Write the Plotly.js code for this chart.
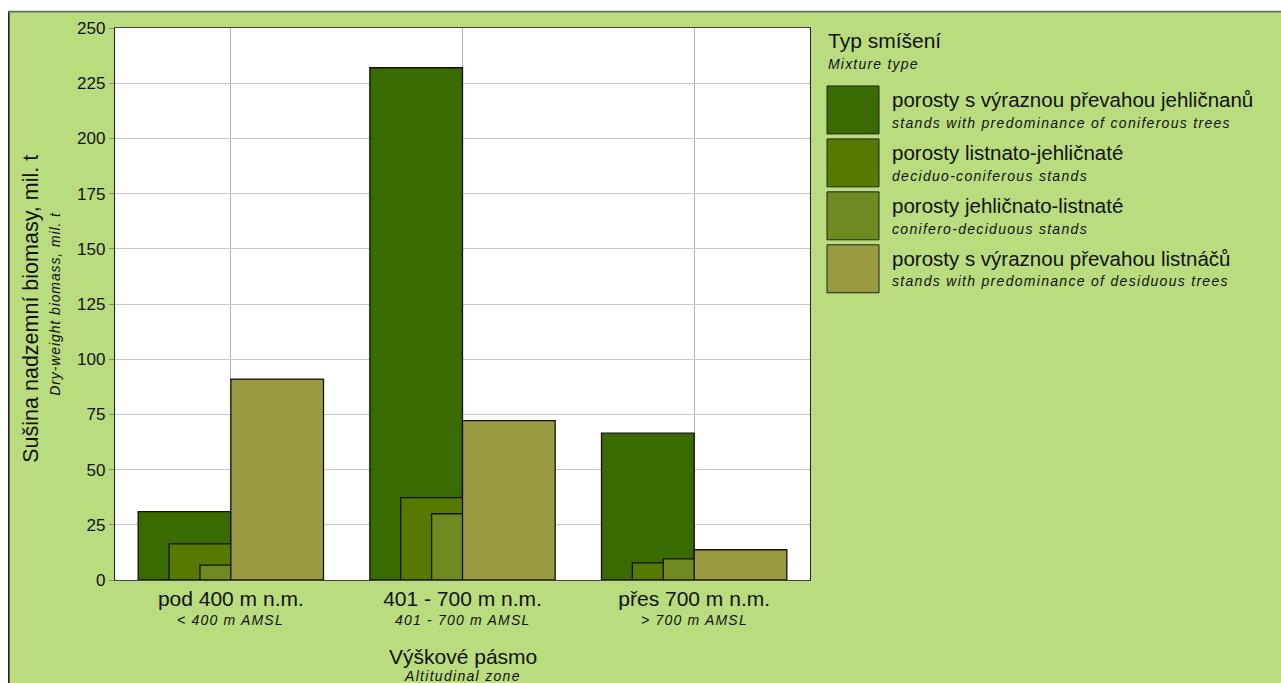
<!DOCTYPE html>
<html>
<head>
<meta charset="utf-8">
<script src="https://cdn.plot.ly/plotly-3.0.1.min.js"></script>
<style>html,body{margin:0;padding:0;background:#fff;}#chart{width:1281px;height:683px;}</style>
</head>
<body>
<div id="chart"></div>
<script>
// ---- data ----
const categories = ["pod 400 m n.m.", "401 - 700 m n.m.", "přes 700 m n.m."];
const categoriesEn = ["< 400 m AMSL", "401 - 700 m AMSL", "> 700 m AMSL"];
const seriesNames = ["porosty s výraznou převahou jehličnanů", "porosty listnato-jehličnaté", "porosty jehličnato-listnaté", "porosty s výraznou převahou listnáčů"];
const seriesNamesEn = ["stands with predominance of coniferous trees", "deciduo-coniferous stands", "conifero-deciduous stands", "stands with predominance of desiduous trees"];
const coniferous = [31, 232, 66.5];
const deciduoConiferous = [16.4, 37.3, 7.8];
const coniferoDeciduous = [6.7, 30.0, 9.6];
const deciduous = [91, 72.2, 13.7];
const seriesValues = [coniferous, deciduoConiferous, coniferoDeciduous, deciduous];
const xTitle = "Výškové pásmo", xTitleEn = "Altitudinal zone";
const yTitle = "Sušina nadzemní biomasy, mil. t", yTitleEn = "Dry-weight biomass, mil. t";
const legendTitle = "Typ smíšení", legendTitleEn = "Mixture type";

// ---- styles ----
const colors = ["#3a6b00", "#567a00", "#6f8a21", "#999a42"];
const offsets = [-0.4, -0.2667, -0.1333, 0];
const barWidth = 0.4;
const FONT = "Liberation Sans, Arial, sans-serif";
const green = "#b9dc7e";
const TXT = "#111";
const it = (s, sp) => "<i><span style='letter-spacing:" + sp + "px'>" + s + "</span></i>";

const traces = seriesValues.map((vals, i) => ({
  type: "bar",
  name: seriesNames[i],
  x: categories,
  y: vals,
  width: barWidth,
  offset: offsets[i],
  marker: {color: colors[i], line: {color: "#111", width: 1.3}},
  showlegend: false,
  hovertemplate: "%{x}<br>" + seriesNames[i] + ": %{y}<extra></extra>"
}));

// plot area in px
const L = 115, R = 810, T = 28, B = 580.5, W = 1281, H = 683;
const px = x => (x - L) / (R - L);
const py = y => (B - y) / (B - T);

const shapes = [
  {type: "rect", xref: "paper", yref: "paper", x0: px(-5), x1: px(8.5), y0: py(-5), y1: py(690), fillcolor: "#fff", line: {width: 0}, layer: "below"},
  {type: "rect", xref: "paper", yref: "paper", x0: px(-5), x1: px(1290), y0: py(-5), y1: py(11), fillcolor: "#fff", line: {width: 0}, layer: "below"},
  {type: "line", xref: "paper", yref: "paper", x0: px(8.8), x1: px(8.8), y0: py(11), y1: py(690), line: {color: "#222", width: 1.6}, layer: "below"},
  {type: "line", xref: "paper", yref: "paper", x0: px(8), x1: px(1290), y0: py(11.6), y1: py(11.6), line: {color: "#666", width: 1.6}, layer: "below"}
];

const annotations = [];
const ann = (o) => annotations.push(Object.assign({showarrow: false, xref: "paper", yref: "paper"}, o));

// x sub labels
categories.forEach((c, i) => ann({xref: "x", x: c, y: py(621), xanchor: "center", yanchor: "middle",
  text: it(categoriesEn[i], 1.2), font: {family: FONT, size: 14, color: TXT}}));
// x title
ann({x: px(462.5), y: py(657), xanchor: "center", yanchor: "middle", text: xTitle, font: {family: FONT, size: 21, color: TXT}});
ann({x: px(462.5), y: py(677), xanchor: "center", yanchor: "middle", text: it(xTitleEn, 1.3), font: {family: FONT, size: 14, color: TXT}});
// y title
ann({x: px(31), y: py(309), xanchor: "center", yanchor: "middle", textangle: -90, text: yTitle, font: {family: FONT, size: 21.5, color: TXT}});
ann({x: px(55), y: py(304), xanchor: "center", yanchor: "middle", textangle: -90, text: it(yTitleEn, 0.9), font: {family: FONT, size: 14, color: TXT}});

// legend (manual, large swatches)
ann({x: px(826), y: py(40.7), xanchor: "left", yanchor: "middle", text: legendTitle, font: {family: FONT, size: 21, color: TXT}});
ann({x: px(826), y: py(64), xanchor: "left", yanchor: "middle", text: it(legendTitleEn, 1.2), font: {family: FONT, size: 14, color: TXT}});
const swTops = [86, 139, 192, 245];
seriesNames.forEach((nm, i) => {
  const t = swTops[i];
  shapes.push({type: "rect", xref: "paper", yref: "paper", x0: px(827), x1: px(879), y0: py(t), y1: py(t + 48),
    fillcolor: colors[i], line: {color: "#222", width: 1}});
  ann({x: px(890), y: py(t + 14), xanchor: "left", yanchor: "middle", text: nm, font: {family: FONT, size: 20.5, color: TXT}});
  ann({x: px(890), y: py(t + 36.7), xanchor: "left", yanchor: "middle", text: it(seriesNamesEn[i], 1.3), font: {family: FONT, size: 14, color: TXT}});
});

const layout = {
  width: W, height: H,
  margin: {l: L, r: W - R, t: T, b: H - B},
  paper_bgcolor: green,
  plot_bgcolor: "#fff",
  barmode: "overlay",
  font: {family: FONT, color: TXT},
  xaxis: {
    type: "category",
    tickmode: "array", tickvals: categories, ticktext: categories,
    tickfont: {size: 21, family: FONT, color: TXT},
    showgrid: true, gridcolor: "#b4b4b4", gridwidth: 1,
    showline: true, mirror: true, linecolor: "#444", linewidth: 1.4,
    ticks: "", range: [-0.5, 2.5], zeroline: false
  },
  yaxis: {
    range: [0, 250], dtick: 25, tick0: 0,
    tickfont: {size: 17, family: FONT, color: TXT},
    showgrid: true, gridcolor: "#c8c8c8", gridwidth: 1.4,
    showline: true, mirror: true, linecolor: "#222", linewidth: 1.4,
    ticks: "outside", ticklen: 5, tickcolor: "#888", tickwidth: 1.4,
    zeroline: false
  },
  shapes: shapes,
  annotations: annotations
};

Plotly.newPlot("chart", traces, layout, {displayModeBar: false, responsive: false});
</script>
</body>
</html>
